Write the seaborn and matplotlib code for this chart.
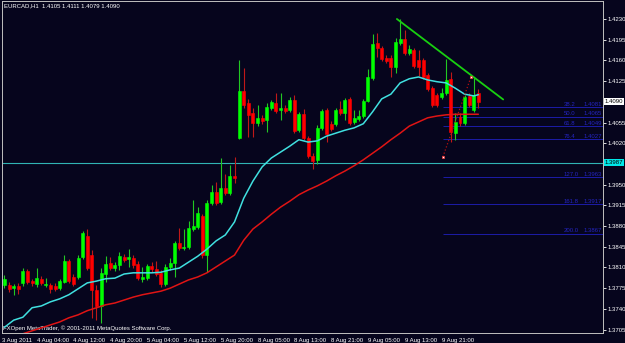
import numpy as np
import pandas as pd
import seaborn as sns
import matplotlib.pyplot as plt

# EURCAD H1 bars (3 Aug 21:00 -> 10 Aug 04:00)
opens = [1.3780, 1.3780, 1.3775, 1.3779, 1.3784, 1.3804, 1.3787, 1.3782, 1.3791, 1.3780,
         1.3780, 1.3779, 1.3775, 1.3786, 1.3821, 1.3794, 1.3794, 1.3828, 1.3863, 1.3831,
         1.3772, 1.3745, 1.3799, 1.3818, 1.3809, 1.3814, 1.3828, 1.3824, 1.3826, 1.3816,
         1.3791, 1.3792, 1.3813, 1.3808, 1.3801, 1.3782, 1.3811, 1.3818, 1.3851, 1.3843,
         1.3845, 1.3875, 1.3878, 1.3897, 1.3831, 1.3919, 1.3938, 1.3921, 1.3944, 1.3936,
         1.3965, 1.4029, 1.4108, 1.4088, 1.4071, 1.4054, 1.4063, 1.4059, 1.4080, 1.4088,
         1.4076, 1.4080, 1.4076, 1.4093, 1.4042, 1.4069, 1.4029, 1.3998, 1.3992, 1.4046,
         1.4076, 1.4053, 1.4053, 1.4078, 1.4071, 1.4095, 1.4056, 1.4061, 1.4066, 1.4091,
         1.4130, 1.4189, 1.4181, 1.4164, 1.4164, 1.4149, 1.4189, 1.4196, 1.4173, 1.4178,
         1.4161, 1.4161, 1.4135, 1.4113, 1.4102, 1.4098, 1.4105, 1.4129, 1.4037, 1.4064,
         1.4054, 1.4100, 1.4076, 1.4105]
highs = [1.3797, 1.3786, 1.3782, 1.3784, 1.3809, 1.3808, 1.3791, 1.3809, 1.3796, 1.3792,
         1.3784, 1.3784, 1.3791, 1.3831, 1.3824, 1.3799, 1.3831, 1.3872, 1.3875, 1.3840,
         1.3780, 1.3809, 1.3829, 1.3828, 1.3819, 1.3836, 1.3833, 1.3841, 1.3831, 1.3821,
         1.3811, 1.3816, 1.3819, 1.3821, 1.3806, 1.3816, 1.3826, 1.3855, 1.3877, 1.3875,
         1.3889, 1.3924, 1.3912, 1.3900, 1.3924, 1.3949, 1.3955, 1.3995, 1.3968, 1.3983,
         1.3997, 1.4161, 1.4147, 1.4095, 1.4080, 1.4085, 1.4068, 1.4088, 1.4093, 1.4105,
         1.4105, 1.4085, 1.4098, 1.4102, 1.4073, 1.4078, 1.4032, 1.4003, 1.4051, 1.4078,
         1.4080, 1.4058, 1.4080, 1.4091, 1.4097, 1.4098, 1.4076, 1.4076, 1.4095, 1.4146,
         1.4205, 1.4206, 1.4184, 1.4169, 1.4169, 1.4198, 1.4230, 1.4211, 1.4186, 1.4181,
         1.4178, 1.4164, 1.4139, 1.4117, 1.4105, 1.4113, 1.4162, 1.4140, 1.4071, 1.4071,
         1.4102, 1.4105, 1.4130, 1.4111]
lows = [1.3775, 1.3769, 1.3764, 1.3765, 1.3779, 1.3782, 1.3779, 1.3777, 1.3780, 1.3777,
        1.3767, 1.3770, 1.3772, 1.3784, 1.3784, 1.3779, 1.3791, 1.3824, 1.3806, 1.3725,
        1.3721, 1.3716, 1.3786, 1.3806, 1.3804, 1.3806, 1.3819, 1.3811, 1.3809, 1.3789,
        1.3786, 1.3789, 1.3802, 1.3796, 1.3777, 1.3779, 1.3806, 1.3794, 1.3840, 1.3840,
        1.3841, 1.3872, 1.3875, 1.3826, 1.3802, 1.3916, 1.3916, 1.3917, 1.3933, 1.3933,
        1.3953, 1.4027, 1.4080, 1.4031, 1.4031, 1.4049, 1.4053, 1.4039, 1.4076, 1.4071,
        1.4059, 1.4071, 1.4073, 1.4037, 1.4039, 1.4026, 1.3995, 1.3976, 1.3985, 1.4042,
        1.4022, 1.4041, 1.4049, 1.4068, 1.4059, 1.4051, 1.4053, 1.4058, 1.4063, 1.4090,
        1.4127, 1.4166, 1.4159, 1.4156, 1.4132, 1.4139, 1.4186, 1.4169, 1.4169, 1.4147,
        1.4134, 1.4129, 1.4108, 1.4081, 1.4081, 1.4095, 1.4102, 1.4022, 1.4026, 1.4049,
        1.4051, 1.4081, 1.4073, 1.4079]
closes = [1.3791, 1.3774, 1.3779, 1.3774, 1.3804, 1.3786, 1.3784, 1.3792, 1.3784, 1.3782,
          1.3774, 1.3774, 1.3787, 1.3821, 1.3787, 1.3782, 1.3826, 1.3868, 1.3809, 1.3772,
          1.3745, 1.3801, 1.3816, 1.3809, 1.3814, 1.3829, 1.3823, 1.3828, 1.3814, 1.3792,
          1.3794, 1.3813, 1.3808, 1.3799, 1.3782, 1.3811, 1.3818, 1.3851, 1.3843, 1.3845,
          1.3877, 1.3880, 1.3902, 1.3831, 1.3919, 1.3938, 1.3919, 1.3944, 1.3936, 1.3965,
          1.3961, 1.4108, 1.4085, 1.4068, 1.4054, 1.4063, 1.4058, 1.4081, 1.4090, 1.4075,
          1.4080, 1.4075, 1.4093, 1.4041, 1.4069, 1.4029, 1.3998, 1.3990, 1.4046, 1.4075,
          1.4036, 1.4044, 1.4076, 1.4071, 1.4093, 1.4054, 1.4063, 1.4066, 1.4091, 1.4132,
          1.4188, 1.4181, 1.4162, 1.4159, 1.4149, 1.4191, 1.4196, 1.4173, 1.4179, 1.4151,
          1.4149, 1.4132, 1.4112, 1.4085, 1.4085, 1.4105, 1.4127, 1.4039, 1.4056, 1.4054,
          1.4098, 1.4085, 1.4102, 1.4090]

# moving averages, sampled every 2 bars
ma_bars = [0, 2, 4, 6, 8, 10, 12, 14, 16, 18, 20, 22, 24, 26, 28, 30, 32, 34, 36, 38,
           40, 42, 44, 46, 48, 50, 52, 54, 56, 58, 60, 62, 64, 66, 68, 70, 72, 74, 76, 78,
           80, 82, 84, 86, 88, 90, 92, 94, 96, 98, 100, 102, 103]
ma_fast = [1.3709, 1.3721, 1.3726, 1.3742, 1.3745, 1.3752, 1.3757, 1.3764, 1.3774, 1.3784,
           1.3787, 1.3791, 1.3792, 1.3799, 1.3801, 1.3801, 1.3801, 1.3802, 1.3806, 1.3809,
           1.3819, 1.3829, 1.3841, 1.3855, 1.3865, 1.3887, 1.3927, 1.3956, 1.3980, 1.3995,
           1.4005, 1.4015, 1.4026, 1.4022, 1.4024, 1.4032, 1.4037, 1.4042, 1.4046, 1.4053,
           1.4073, 1.4095, 1.4103, 1.4122, 1.4129, 1.4132, 1.4127, 1.4124, 1.4122, 1.4113,
           1.4103, 1.4100, 1.4102]
ma_slow = [1.3688, 1.3693, 1.3698, 1.3703, 1.3708, 1.3713, 1.3718, 1.3725, 1.3730, 1.3737,
           1.3742, 1.3747, 1.3750, 1.3755, 1.3760, 1.3764, 1.3767, 1.3770, 1.3775, 1.3782,
           1.3789, 1.3794, 1.3801, 1.3811, 1.3821, 1.3831, 1.3856, 1.3875, 1.3887, 1.3900,
           1.3912, 1.3922, 1.3933, 1.3941, 1.3948, 1.3956, 1.3965, 1.3973, 1.3982, 1.3992,
           1.4003, 1.4014, 1.4026, 1.4037, 1.4049, 1.4056, 1.4063, 1.4066, 1.4068, 1.4069,
           1.4069, 1.4069, 1.4069]

# drawn objects
trend_x = [85.3, 108.4]
trend_y = [1.4230, 1.4094]
fib_x = [95.3, 101.4]
fib_y = [1.3997, 1.4132]
fib_levels = ["38.2", "50.0", "61.8", "76.4", "127.0", "161.8", "200.0"]
fib_prices = [1.4081, 1.4065, 1.4049, 1.4027, 1.3963, 1.3917, 1.3867]
hline_price = 1.3987
last_price = 1.4090

ytick_vals = [1.4230, 1.4195, 1.4160, 1.4125, 1.4055, 1.4020, 1.3950, 1.3915, 1.3880,
              1.3845, 1.3810, 1.3775, 1.3740, 1.3705]
xtick_pos = [-0.5, 7, 15, 23, 31, 39, 47, 55, 63, 71, 79, 87, 95]
xtick_labels = ["3 Aug 2011", "4 Aug 04:00", "4 Aug 12:00", "4 Aug 20:00", "5 Aug 04:00",
                "5 Aug 12:00", "5 Aug 20:00", "8 Aug 05:00", "8 Aug 13:00", "8 Aug 21:00",
                "9 Aug 05:00", "9 Aug 13:00", "9 Aug 21:00"]

sns.set_style("dark")
plt.rcParams['font.family'] = ['Liberation Sans', 'DejaVu Sans']

bg = '#06051d'
fs = 4.3
fig = plt.figure(figsize=(6.25, 3.43), dpi=100, facecolor=bg)
ax = fig.add_axes([2 / 625, 10 / 343, 601 / 625, 332 / 343])
ax.set_facecolor(bg)
ax.grid(False)

df = pd.DataFrame({'open': opens, 'high': highs, 'low': lows, 'close': closes})
df['bar'] = np.arange(len(df))
up = df['close'] >= df['open']
dn = ~up

# candles
ax.vlines(df.bar[up], df.low[up], df.high[up], color='#22c822', lw=0.8, zorder=2)
ax.vlines(df.bar[dn], df.low[dn], df.high[dn], color='#c01818', lw=0.8, zorder=2)
ax.bar(df.bar[up], (df.close - df.open)[up], bottom=df.open[up], width=0.62,
       color='#00ff00', edgecolor='#00ff00', linewidth=0.4, zorder=3)
ax.bar(df.bar[dn], (df.open - df.close)[dn], bottom=df.close[dn], width=0.62,
       color='#ff0000', edgecolor='#ff0000', linewidth=0.4, zorder=3)

# moving averages
sns.lineplot(x=ma_bars, y=ma_fast, color='#40e0e0', lw=1.1, ax=ax, zorder=4)
sns.lineplot(x=ma_bars, y=ma_slow, color='#e01414', lw=1.1, ax=ax, zorder=4)

xmin, xmax = -0.54, 130.1
ax.set_xlim(xmin, xmax)
ax.set_ylim(1.36993, 1.42604)

# horizontal line + trend line
ax.axhline(hline_price, color='#30b4b4', lw=0.8, zorder=1)
ax.plot(trend_x, trend_y, color='#18d010', lw=1.3, zorder=5)

# fibonacci
ax.hlines(fib_prices, fib_x[0], xmax, color='#1c1ca8', lw=0.7, zorder=1)
ytr = ax.get_yaxis_transform()
for lev, pr in zip(fib_levels, fib_prices):
    ax.text(0.935, pr + 0.0005, lev, transform=ytr, color='#2424c0', fontsize=fs,
            ha='left', va='center')
    ax.text(0.998, pr + 0.0005, f"{pr:.4f}", transform=ytr, color='#2424c0', fontsize=fs,
            ha='right', va='center')
ax.plot(fib_x, fib_y, ls=':', color='#b01010', lw=0.9, zorder=5)
ax.plot(fib_x, fib_y, 's', ms=2, mfc='white', mec='#ff3030', mew=0.5, zorder=6)

# axes look
for s in ax.spines.values():
    s.set_visible(True)
    s.set_color('#c0c0c0')
    s.set_linewidth(0.7)
ax.yaxis.tick_right()
ax.set_yticks(ytick_vals, [f"{v:.4f}" for v in ytick_vals])
ax.set_xticks(xtick_pos, xtick_labels)
for lbl in ax.get_xticklabels():
    lbl.set_ha('left')
ax.tick_params(axis='y', colors='white', length=2, width=0.6, pad=1.5, labelsize=fs)
ax.tick_params(axis='x', colors='white', length=2.5, width=0.6, pad=0.8, labelsize=fs)
ax.set_xlabel('')
ax.set_ylabel('')

# price labels on the scale
ax.text(1.003, last_price, f"{last_price:.4f}", transform=ytr, color='black', fontsize=fs,
        ha='left', va='center', bbox=dict(facecolor='white', edgecolor='none', pad=0.8))
ax.text(1.003, hline_price, f"{hline_price:.4f}", transform=ytr, color='black', fontsize=fs,
        ha='left', va='center', bbox=dict(facecolor='#00e8e8', edgecolor='none', pad=0.8))

ax.text(0.003, 0.985, "EURCAD,H1  1.4105 1.4111 1.4079 1.4090", transform=ax.transAxes,
        color='white', fontsize=fs, ha='left', va='center')
ax.text(0.001, 0.015, "FXOpen MetaTrader, \u00a9 2001-2011 MetaQuotes Software Corp.",
        transform=ax.transAxes, color='white', fontsize=fs, ha='left', va='center')

fig.savefig('out.png', dpi=100, facecolor=bg)
